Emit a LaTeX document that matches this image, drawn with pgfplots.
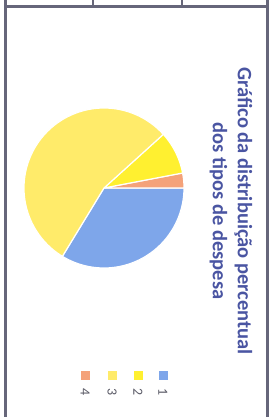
\documentclass[border=0pt]{standalone}
\usepackage{pgfplots}
\pgfplotsset{compat=1.18}
\usepackage{fontspec}
\setmainfont{Carlito}
\definecolor{c1}{HTML}{7EA6EA}
\definecolor{c2}{HTML}{FFF030}
\definecolor{c3}{HTML}{FFEB6A}
\definecolor{c4}{HTML}{F4A27A}
\definecolor{tit}{HTML}{4A55A2}
\definecolor{framec}{HTML}{66667A}
\definecolor{numc}{HTML}{5A5A66}
% percentages of the four expense types
\def\vA{33.7}\def\vB{8.7}\def\vC{54.6}\def\vD{3.0}
\pgfmathsetmacro{\aAs}{-\vA*3.6}
\pgfmathsetmacro{\aDe}{\vD*3.6}
\pgfmathsetmacro{\aBe}{\aDe+\vB*3.6}
\pgfmathsetmacro{\aCe}{\aBe+\vC*3.6}
\begin{document}
\begin{tikzpicture}
\begin{axis}[
  scale only axis, width=271pt, height=417pt,
  xmin=0, xmax=271, ymin=0, ymax=417, y dir=reverse,
  hide axis, clip=false]
% slices
\addplot[fill=c1, draw=white, line width=1.2pt, domain=\aAs:0, samples=60]
  ({104+80*cos(x)},{188-80*sin(x)}) -- (axis cs:104,188) -- cycle;
\addplot[fill=c4, draw=white, line width=1.2pt, domain=0:\aDe, samples=10]
  ({104+80*cos(x)},{188-80*sin(x)}) -- (axis cs:104,188) -- cycle;
\addplot[fill=c2, draw=white, line width=1.2pt, domain=\aDe:\aBe, samples=20]
  ({104+80*cos(x)},{188-80*sin(x)}) -- (axis cs:104,188) -- cycle;
\addplot[fill=c3, draw=white, line width=1.2pt, domain=\aBe:\aCe, samples=90]
  ({104+80*cos(x)},{188-80*sin(x)}) -- (axis cs:104,188) -- cycle;
% legend markers
\addplot[only marks, mark=square*, mark size=4.3pt, mark options={draw=c1,fill=c1}] coordinates {(163,375)};
\addplot[only marks, mark=square*, mark size=4.3pt, mark options={draw=c2,fill=c2}] coordinates {(138,375)};
\addplot[only marks, mark=square*, mark size=4.3pt, mark options={draw=c3,fill=c3}] coordinates {(112,375)};
\addplot[only marks, mark=square*, mark size=4.3pt, mark options={draw=c4,fill=c4}] coordinates {(85,375)};
\node[rotate=-90, text=numc, font=\fontsize{14}{15}\selectfont] at (axis cs:163,392) {1};
\node[rotate=-90, text=numc, font=\fontsize{14}{15}\selectfont] at (axis cs:138,392) {2};
\node[rotate=-90, text=numc, font=\fontsize{14}{15}\selectfont] at (axis cs:112,392) {3};
\node[rotate=-90, text=numc, font=\fontsize{14}{15}\selectfont] at (axis cs:85,392) {4};
% title
\node[rotate=-90, text=tit, align=center, font=\bfseries\fontsize{20.5}{25}\selectfont]
  at (axis cs:231,211) {Gráfico da distribuição percentual\\dos tipos de despesa};
% frame
\draw[framec, line width=3pt] (axis cs:5.5,6.5) -- (axis cs:267.5,6.5);
\draw[framec, line width=3pt] (axis cs:5.5,0) -- (axis cs:5.5,417);
\draw[framec, line width=3pt] (axis cs:267.5,0) -- (axis cs:267.5,417);
\draw[framec, line width=2.5pt] (axis cs:93,0) -- (axis cs:93,6.5);
\draw[framec, line width=2.5pt] (axis cs:182,0) -- (axis cs:182,6.5);
\end{axis}
\pgfresetboundingbox
\useasboundingbox (current axis.south west) rectangle (current axis.north east);
\end{tikzpicture}
\end{document}
